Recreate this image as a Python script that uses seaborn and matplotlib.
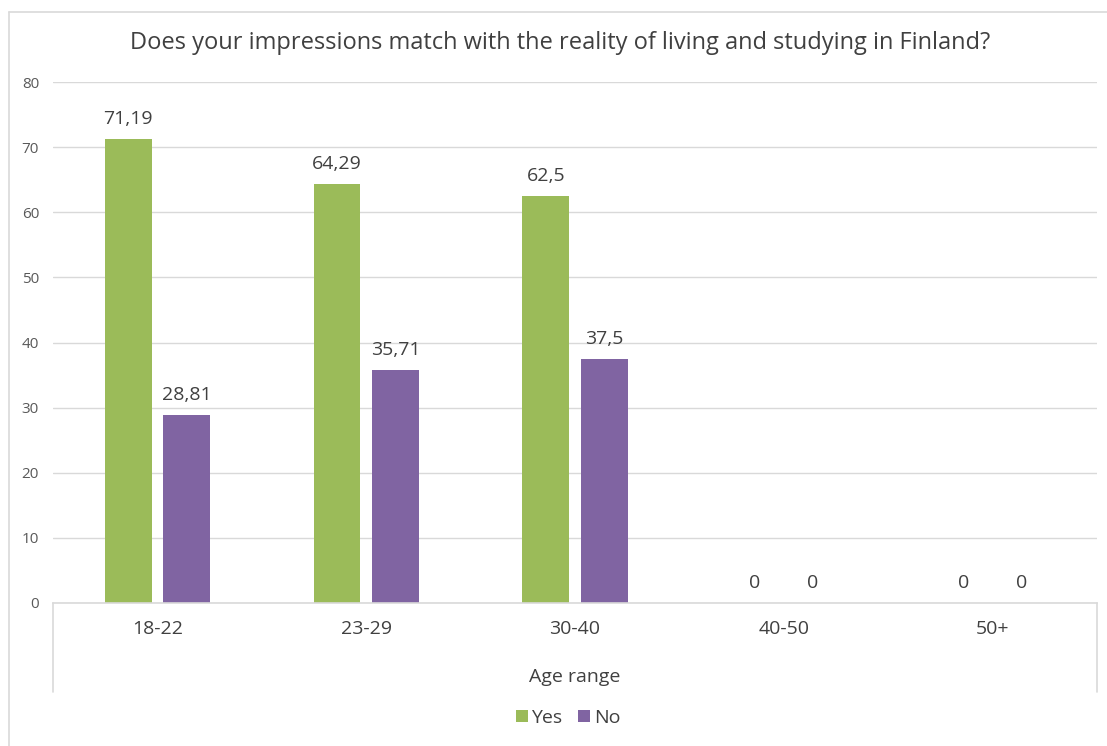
import matplotlib
matplotlib.use("Agg")
import matplotlib.pyplot as plt
from matplotlib.lines import Line2D
from matplotlib.patches import Patch
import seaborn as sns
import pandas as pd

# Survey answers by age group (percent)
age_groups = ["18-22", "23-29", "30-40", "40-50", "50+"]
yes_values = [71.19, 64.29, 62.5, 0, 0]
no_values = [28.81, 35.71, 37.5, 0, 0]
series_names = ["Yes", "No"]
y_ticks = [0, 10, 20, 30, 40, 50, 60, 70, 80]

title = "Does your impressions match with the reality of living and studying in Finland?"
x_title = "Age range"

GREEN = "#9BBB59"
PURPLE = "#8064A2"
GRID = "#D9D9D9"
TEXT = "#595959"
LABEL = "#404040"

df = pd.DataFrame({
    "age": age_groups * 2,
    "answer": [series_names[0]] * len(age_groups) + [series_names[1]] * len(age_groups),
    "value": yes_values + no_values,
})

sns.set_theme(style="white")
plt.rcParams["font.family"] = ["Open Sans", "DejaVu Sans"]

W, H = 1107, 746
fig = plt.figure(figsize=(W / 100, H / 100), dpi=100)
left, right, top, bottom = 53, 1097, 82, 603
ax = fig.add_axes([left / W, 1 - bottom / H, (right - left) / W, (bottom - top) / H])

sns.barplot(data=df, x="age", y="value", hue="answer", order=age_groups,
            hue_order=series_names, palette=[GREEN, PURPLE], width=0.56,
            gap=0.2, saturation=1, legend=False, ax=ax, linewidth=0)

ax.set_xlim(-0.5, len(age_groups) - 0.5)
ax.set_ylim(0, 80)
ax.set_yticks(y_ticks)
ax.set_yticklabels([str(t) for t in y_ticks], fontsize=11, color=TEXT)
ax.tick_params(axis="y", length=0, pad=10)
ax.tick_params(axis="x", length=0, pad=12, labelsize=14, labelcolor=LABEL)
ax.yaxis.grid(True, color=GRID, linewidth=1)
ax.set_axisbelow(True)
for s in ["top", "right", "left"]:
    ax.spines[s].set_visible(False)
ax.spines["bottom"].set_color(GRID)
ax.spines["bottom"].set_linewidth(1.2)
ax.set_ylabel("")
ax.set_xlabel(x_title, fontsize=14, color=LABEL)
ax.xaxis.label.set_va("center")
ax.xaxis.set_label_coords(0.5, -(677 - bottom) / (bottom - top))

# Value labels with decimal commas
for container in ax.containers:
    vals = container.datavalues
    ax.bar_label(container, labels=[f"{v:g}".replace(".", ",") for v in vals],
                 padding=8, fontsize=14, color=LABEL)

# Category axis bracket lines extending below the baseline
ext = -(692 - bottom) / (bottom - top)
for xa in (0, 1):
    ax.plot([xa, xa], [0, ext], transform=ax.transAxes, color=GRID,
            linewidth=1.2, clip_on=False)

fig.text(560 / W, 1 - 43 / H, title, ha="center", va="center",
         fontsize=17, color=LABEL)

handles = [Patch(facecolor=GREEN, edgecolor="none"), Patch(facecolor=PURPLE, edgecolor="none")]
fig.legend(handles, series_names, loc="center", bbox_to_anchor=(568 / W, 1 - 718 / H),
           ncol=2, frameon=False, fontsize=14, handlelength=0.6, handleheight=0.6,
           handletextpad=0.2, columnspacing=0.8, labelcolor=LABEL)

# Chart border (top and left edges)
fig.add_artist(Line2D([9 / W, 1], [1 - 12 / H, 1 - 12 / H], color=GRID, linewidth=1.2))
fig.add_artist(Line2D([9 / W, 9 / W], [0, 1 - 12 / H], color=GRID, linewidth=1.2))

fig.savefig("out.png", dpi=100, facecolor="white")
